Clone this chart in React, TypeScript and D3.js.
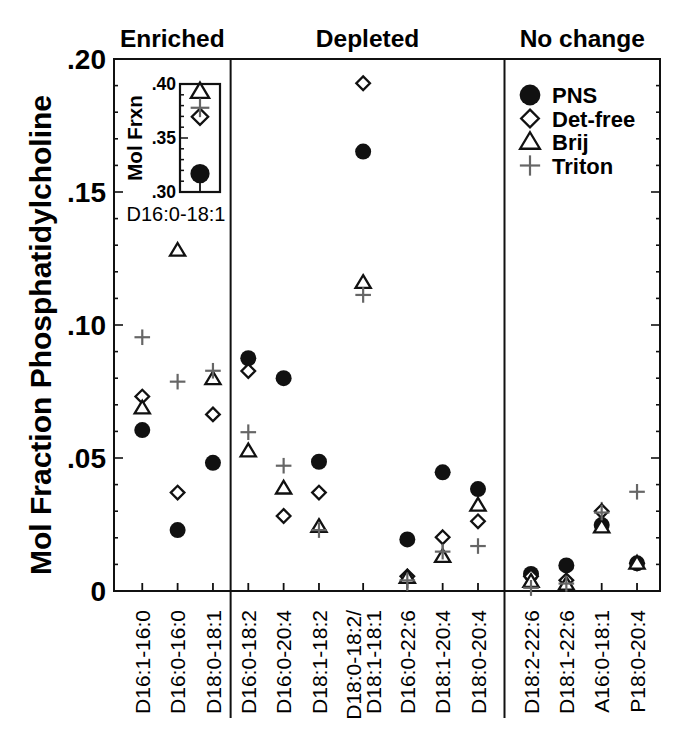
import React from 'react'
import * as d3 from 'd3'

// ---- data ----
const groups = ['Enriched', 'Depleted', 'No change']
const categories = [
  'D16:1-16:0', 'D16:0-16:0', 'D18:0-18:1',
  'D16:0-18:2', 'D16:0-20:4', 'D18:1-18:2', 'D18:0-18:2/|D18:1-18:1', 'D16:0-22:6', 'D18:1-20:4', 'D18:0-20:4',
  'D18:2-22:6', 'D18:1-22:6', 'A16:0-18:1', 'P18:0-20:4',
]
const categoryGroup = [0, 0, 0, 1, 1, 1, 1, 1, 1, 1, 2, 2, 2, 2]

const pns = [0.0605, 0.0229, 0.0482, 0.0875, 0.080, 0.0486, 0.1652, 0.0194, 0.0446, 0.0383, 0.0064, 0.0096, 0.0248, 0.0104]
const detFree = [0.0731, 0.037, 0.0664, 0.0827, 0.0282, 0.037, 0.1909, 0.0055, 0.0202, 0.0262, 0.0055, 0.004, 0.030, 0.0104]
const brij = [0.0687, 0.128, 0.0797, 0.0526, 0.0386, 0.0242, 0.1159, 0.005, 0.0129, 0.0322, 0.0035, 0.0025, 0.024, 0.0104]
const triton = [0.0954, 0.0787, 0.0828, 0.0597, 0.0471, 0.0229, 0.1113, 0.004, 0.0148, 0.0169, 0.0012, 0.0028, 0.0295, 0.0373]
const tritonErr = [0, 0, 0, 0, 0, 0, 0, 0.004, 0.003, 0, 0.003, 0.003, 0.004, 0]

const yTicks = [0, 0.05, 0.1, 0.15, 0.2]
const yTickLabels = ['0', '.05', '.10', '.15', '.20']

// inset
const insetCategory = ['D16:0-18:1']
const insetPns = [0.317]
const insetDetFree = [0.3697]
const insetBrij = [0.393]
const insetTriton = [0.378]
const insetTritonErr = [0.0085]
const insetTicks = [0.3, 0.35, 0.4]
const insetTickLabels = ['.30', '.35', '.40']

const seriesNames = ['PNS', 'Det-free', 'Brij', 'Triton']

// ---- layout ----
const W = 695
const H = 729
const plot = { left: 114, right: 660, top: 59, bottom: 591 }
const groupGap = [0, 0, 0.5]
const font = '"Liberation Sans", Arial, Helvetica, sans-serif'
const grey = '#666'

// slot positions: two-line labels take a wider cell
const slots: number[] = []
{
  let s = 0
  let prevHalf = 0
  categories.forEach((c, i) => {
    const half = c.includes('|') ? 0.75 : 0.5
    if (i > 0) {
      s += prevHalf + half
      if (categoryGroup[i] !== categoryGroup[i - 1]) s += groupGap[categoryGroup[i]]
    }
    slots.push(s)
    prevHalf = half
  })
}

const x = d3.scaleLinear().domain([-0.8, 14.65]).range([plot.left, plot.right])
const y = d3.scaleLinear().domain([0, 0.2]).range([plot.bottom, plot.top])

const inset = { left: 180, right: 220, top: 84, bottom: 192 }
const ix = d3.scalePoint().domain(insetCategory).range([inset.left, inset.right]).padding(0.5)
const iy = d3.scaleLinear().domain([0.3, 0.4]).range([inset.bottom, inset.top])

function Marker({ kind, cx, cy, k = 1 }: { kind: number; cx: number; cy: number; k?: number }) {
  const t = `translate(${cx},${cy}) scale(${k})`
  if (kind === 0) return <circle cx={cx} cy={cy} r={8 * k} fill="#111" />
  if (kind === 1)
    return <path transform={t} d="M0,-6.8L6.8,0L0,6.8L-6.8,0Z" fill="#fff" stroke="#111" strokeWidth={2.3 / k} />
  if (kind === 2)
    return <path transform={t} d="M0,-7.5L7.6,5.2L-7.6,5.2Z" fill="#fff" stroke="#111" strokeWidth={2.3 / k} strokeLinejoin="miter" />
  return (
    <g transform={t} stroke={grey} strokeWidth={2.2 / k}>
      <line x1={-7.8} x2={7.8} y1={0} y2={0} />
      <line x1={0} x2={0} y1={-7.8} y2={7.8} />
    </g>
  )
}

export default function App() {
  const series = [pns, detFree, brij, triton]
  const groupBounds = groups.map((_, g) => {
    const idx = categories.map((_, i) => i).filter((i) => categoryGroup[i] === g)
    const first = idx[0]
    const last = idx[idx.length - 1]
    const left = g === 0 ? plot.left : x((slots[first - 1] + slots[first]) / 2)
    const right = g === groups.length - 1 ? plot.right : x((slots[last] + slots[last + 1]) / 2)
    return { left, right }
  })
  const minor = d3.range(0, 0.2001, 0.01)
  const insetMinor = d3.range(0.3, 0.4001, 0.01)

  return (
    <svg width={W} height={H} style={{ position: 'absolute', left: 0, top: 0, background: '#fff' }} fontFamily={font}>
      {/* group headings */}
      {groups.map((g, i) => (
        <text key={g} x={(groupBounds[i].left + groupBounds[i].right) / 2} y={47} textAnchor="middle" fontSize={24.5} fontWeight="bold">
          {g}
        </text>
      ))}

      {/* frame */}
      <rect x={plot.left} y={plot.top} width={plot.right - plot.left} height={plot.bottom - plot.top} fill="none" stroke="#111" strokeWidth={2} />
      {groupBounds.slice(1).map((b, i) => (
        <line key={i} x1={b.left} x2={b.left} y1={plot.top} y2={718} stroke="#111" strokeWidth={2} />
      ))}

      {/* y ticks left + right */}
      {minor.map((v, i) => {
        const major = yTicks.some((t) => Math.abs(t - v) < 1e-6)
        const len = major ? 9 : 4
        return (
          <g key={i} stroke="#111" strokeWidth={1.6}>
            <line x1={plot.left} x2={plot.left + len} y1={y(v)} y2={y(v)} />
            <line x1={plot.right} x2={plot.right - len} y1={y(v)} y2={y(v)} />
          </g>
        )
      })}
      {yTicks.map((v, i) => (
        <text key={v} x={106} y={y(v)} dy="0.36em" textAnchor="end" fontSize={28} fontWeight="bold">
          {yTickLabels[i]}
        </text>
      ))}

      {/* y title */}
      <text transform={`translate(51,${(plot.top + plot.bottom) / 2 + 10}) rotate(-90)`} textAnchor="middle" fontSize={30} fontWeight="bold">
        Mol Fraction Phosphatidylcholine
      </text>

      {/* x ticks + labels */}
      {categories.map((c, i) => {
        const lines = c.split('|')
        return (
          <g key={c}>
            <line x1={x(slots[i])} x2={x(slots[i])} y1={plot.bottom} y2={plot.bottom - 8} stroke="#111" strokeWidth={1.8} />
            <text transform={`translate(${x(slots[i])},610) rotate(-90)`} textAnchor="end" fontSize={21}>
              {lines.map((l, j) => (
                <tspan key={j} x={0} y={0} dy={`${(j - (lines.length - 1) / 2) * 0.95 + 0.36}em`}>
                  {l}
                </tspan>
              ))}
            </text>
          </g>
        )
      })}

      {/* Triton error bars */}
      {triton.map((v, i) =>
        tritonErr[i] > 0 ? (
          <line key={i} x1={x(slots[i])} x2={x(slots[i])} y1={y(v - tritonErr[i])} y2={y(v + tritonErr[i])} stroke={grey} strokeWidth={2} />
        ) : null,
      )}

      {/* markers */}
      {series.map((vals, k) => (
        <g key={k}>
          {vals.map((v, i) => (
            <Marker key={i} kind={k} cx={x(slots[i])} cy={y(v)} />
          ))}
        </g>
      ))}

      {/* legend */}
      {seriesNames.map((n, i) => (
        <g key={n}>
          <Marker kind={i} cx={530} cy={95 + i * 23.5} k={1.3} />
          <text x={552} y={95 + i * 23.5 + 8} fontSize={22} fontWeight="bold">
            {n}
          </text>
        </g>
      ))}

      {/* inset */}
      <rect x={inset.left} y={inset.top} width={inset.right - inset.left} height={inset.bottom - inset.top} fill="#fff" stroke="#111" strokeWidth={2.2} />
      {insetMinor.map((v, i) => {
        const major = insetTicks.some((t) => Math.abs(t - v) < 1e-6)
        return <line key={i} x1={inset.left} x2={inset.left + (major ? 8 : 4)} y1={iy(v)} y2={iy(v)} stroke="#111" strokeWidth={1.5} />
      })}
      {insetTicks.map((v, i) => (
        <text key={v} x={176} y={iy(v)} dy="0.36em" textAnchor="end" fontSize={17.5} fontWeight="bold">
          {insetTickLabels[i]}
        </text>
      ))}
      {insetCategory.map((c) => (
        <g key={c}>
          <line x1={ix(c)!} x2={ix(c)!} y1={inset.bottom} y2={inset.bottom - 11} stroke="#111" strokeWidth={1.8} />
          <text x={176} y={221} textAnchor="middle" fontSize={20}>
            {c}
          </text>
        </g>
      ))}
      <text transform={`translate(142,${(inset.top + inset.bottom) / 2}) rotate(-90)`} textAnchor="middle" fontSize={20.5} fontWeight="bold">
        Mol Frxn
      </text>
      {insetTriton.map((v, i) => (
        <line key={i} x1={ix(insetCategory[i])!} x2={ix(insetCategory[i])!} y1={iy(v - insetTritonErr[i])} y2={iy(v + insetTritonErr[i])} stroke={grey} strokeWidth={2} />
      ))}
      {[insetPns, insetDetFree, insetBrij, insetTriton].map((vals, k) => (
        <g key={k}>
          {vals.map((v, i) => (
            <Marker key={i} kind={k} cx={ix(insetCategory[i])!} cy={iy(v)} k={1.2} />
          ))}
        </g>
      ))}
    </svg>
  )
}
